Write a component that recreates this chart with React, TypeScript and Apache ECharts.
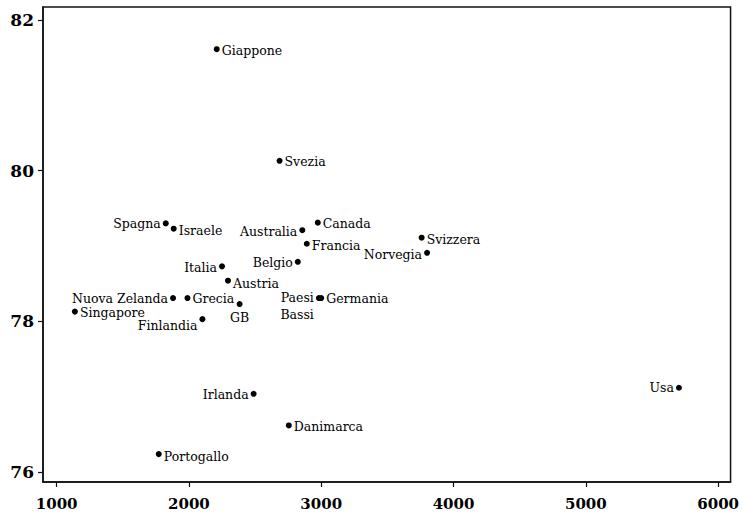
import React, { useEffect, useRef } from "react";
import * as echarts from "echarts";

const countries = [
  "Giappone", "Svezia", "Spagna", "Israele", "Australia", "Canada", "Francia",
  "Belgio", "Svizzera", "Norvegia", "Italia", "Austria", "Nuova Zelanda", "Grecia",
  "GB", "Paesi\nBassi", "Germania", "Singapore", "Finlandia", "Irlanda",
  "Danimarca", "Portogallo", "Usa",
];
const spending = [
  2210, 2685, 1825, 1885, 2857, 2974, 2891,
  2823, 3759, 3800, 2250, 2295, 1880, 1989,
  2383, 2982, 3000, 1138, 2102, 2489,
  2755, 1772, 5704,
];
const lifeExpectancy = [
  81.61, 80.13, 79.3, 79.23, 79.21, 79.31, 79.03,
  78.79, 79.11, 78.91, 78.73, 78.54, 78.31, 78.31,
  78.23, 78.31, 78.31, 78.13, 78.03, 77.04,
  76.62, 76.24, 77.12,
];
const xTicks = [1000, 2000, 3000, 4000, 5000, 6000];
const yTicks = [76, 78, 80, 82];

// label placement (style only)
const labelStyle: Record<string, { position: string; offset?: number[] }> = {
  Giappone: { position: "right", offset: [0, 1] },
  Svezia: { position: "right", offset: [0, 1] },
  Spagna: { position: "left" },
  Israele: { position: "right", offset: [0, 2] },
  Australia: { position: "left", offset: [0, 1] },
  Canada: { position: "right", offset: [0, 1] },
  Francia: { position: "right", offset: [0, 2] },
  Belgio: { position: "left", offset: [0, 1] },
  Svizzera: { position: "right", offset: [0, 2] },
  Norvegia: { position: "left", offset: [0, 2] },
  Italia: { position: "left", offset: [0, 1] },
  Austria: { position: "right", offset: [0, 3] },
  "Nuova Zelanda": { position: "left" },
  Grecia: { position: "right" },
  GB: { position: "bottom", offset: [0, 0] },
  "Paesi\nBassi": { position: "left", offset: [0, 8] },
  Germania: { position: "right" },
  Singapore: { position: "right", offset: [0, 1] },
  Finlandia: { position: "left", offset: [0, 6] },
  Irlanda: { position: "left", offset: [0, 1] },
  Danimarca: { position: "right", offset: [0, 1] },
  Portogallo: { position: "right", offset: [0, 2] },
  Usa: { position: "left" },
};

export default function App() {
  const ref = useRef<HTMLDivElement>(null);
  useEffect(() => {
    if (!ref.current) return;
    const chart = echarts.init(ref.current, undefined, { renderer: "svg" });
    const data = countries.map((name, i) => {
      const ls = labelStyle[name] || { position: "right" };
      return {
        name,
        value: [spending[i], lifeExpectancy[i]],
        label: {
          position: ls.position,
          offset: ls.offset || [0, 0],
        },
      };
    });
    chart.setOption({
      animation: false,
      backgroundColor: "#ffffff",
      grid: {
        left: 43,
        right: 10,
        top: 7,
        bottom: 35,
        show: true,
        borderColor: "#111",
        borderWidth: 1.5,
        containLabel: false,
      },
      xAxis: {
        type: "value",
        min: 897,
        max: 6094,
        splitLine: { show: false },
        axisLine: { show: true, onZero: false, lineStyle: { color: "#111", width: 1.5 } },
        axisTick: {
          show: true,
          length: 5,
          customValues: xTicks,
          lineStyle: { color: "#111", width: 1.2 },
        },
        axisLabel: {
          customValues: xTicks,
          formatter: (v: number) => String(v),
          margin: 14,
          color: "#000",
          fontFamily: "DejaVu Serif",
          fontWeight: "bold",
          fontSize: 15,
        },
      },
      yAxis: {
        type: "value",
        min: 75.87,
        max: 82.17,
        splitLine: { show: false },
        axisLine: { show: true, onZero: false, lineStyle: { color: "#111", width: 1.5 } },
        axisTick: {
          show: true,
          length: 5,
          customValues: yTicks,
          lineStyle: { color: "#111", width: 1.2 },
        },
        axisLabel: {
          customValues: yTicks,
          formatter: (v: number) => String(v),
          margin: 9,
          color: "#000",
          fontFamily: "DejaVu Serif",
          fontWeight: "bold",
          fontSize: 17,
        },
      },
      series: [
        {
          type: "scatter",
          symbol: "circle",
          symbolSize: 6,
          itemStyle: { color: "#000", opacity: 1 },
          data,
          label: {
            show: true,
            formatter: "{b}",
            distance: 2,
            color: "#000",
            fontFamily: "DejaVu Serif",
            fontSize: 12.5,
            lineHeight: 17,
          },
        },
      ],
    });
    return () => chart.dispose();
  }, []);
  return <div ref={ref} style={{ width: 742, height: 517, position: "absolute", left: 0, top: 0 }} />;
}
